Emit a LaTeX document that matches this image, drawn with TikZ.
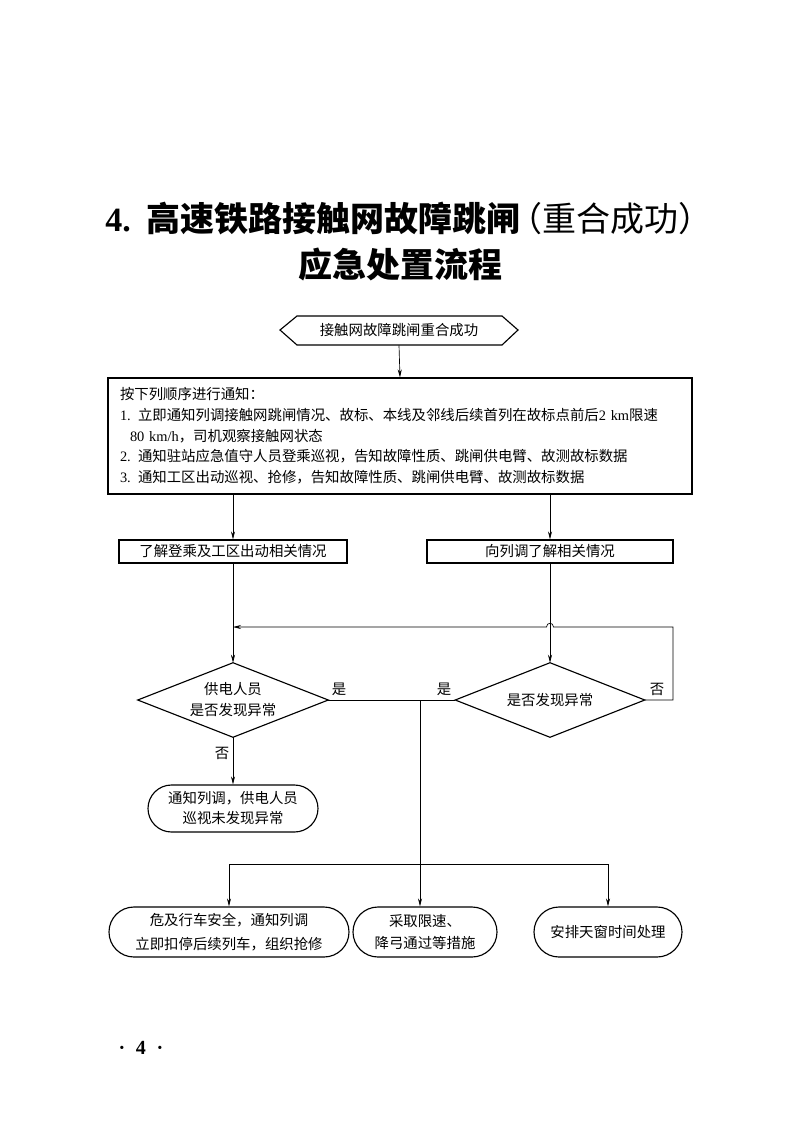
\documentclass[tikz,border=0pt]{standalone}
\usepackage{fontspec}
\setmainfont{Liberation Serif}
\newfontfamily\cjk{Noto Sans CJK SC}
\usetikzlibrary{arrows.meta,shapes.geometric,shapes.misc}
\newcommand\lat[1]{{\rmfamily #1}}
\begin{document}
\begin{tikzpicture}[x=0.75pt,y=-0.75pt,
  font=\cjk\fontsize{10.8pt}{15.5pt}\selectfont,
  box/.style={draw, line width=0.85pt, inner sep=0pt, align=center},
  rbox/.style={rounded rectangle, draw, line width=0.85pt, inner sep=0pt, align=center},
  dia/.style={inner sep=0pt, align=center},
  diaedge/.style={line width=0.85pt},
  conn/.style={line width=0.5pt},
  arr/.style={conn, -{Stealth[length=6pt,width=3pt]}},
  lbl/.style={inner sep=0pt}]
\useasboundingbox (0,0) rectangle (800,1135);

% title
\node[lbl, anchor=base west, font=\cjk\fontsize{25.5pt}{30pt}\selectfont] (title1) at (105,231)
  {{\rmfamily\bfseries 4.}\hspace{0.45em}{\bfseries 高速铁路接触网故障跳闸}\kern-0.35em（重合成功）};
\node[lbl, font=\cjk\bfseries\fontsize{25.5pt}{30pt}\selectfont] (title2) at (400,265) {应急处置流程};

% start
\draw[line width=0.85pt] (280,330) -- (297,316) -- (502,316) -- (518,330) -- (502,345) -- (297,345) -- cycle;
\node[lbl, minimum width=238*0.75pt, minimum height=29*0.75pt] (start) at (399,330.5) {接触网故障跳闸重合成功};

% notify box
\node[box, minimum width=584*0.75pt, minimum height=116*0.75pt, text width=560*0.75pt, align=left] (notify) at (400,436)
  {按下列顺序进行通知：\\
   \lat{1. }立即通知列调接触网跳闸情况、故标、本线及邻线后续首列在故标点前后\lat{2 km}限速\\
   \hspace*{7.5pt}\lat{80 km/h}，司机观察接触网状态\\
   \lat{2. }通知驻站应急值守人员登乘巡视，告知故障性质、跳闸供电臂、故测故标数据\\
   \lat{3. }通知工区出动巡视、抢修，告知故障性质、跳闸供电臂、故测故标数据};

\node[box, minimum width=228*0.75pt, minimum height=23*0.75pt] (boxL) at (233,551.5) {了解登乘及工区出动相关情况};
\node[box, minimum width=246*0.75pt, minimum height=23*0.75pt] (boxR) at (550,551.5) {向列调了解相关情况};

\node[dia, minimum width=190*0.75pt, minimum height=74*0.75pt, font=\cjk\fontsize{10.8pt}{15.75pt}\selectfont] (dL) at (233,700) {供电人员\\是否发现异常};
\node[dia, minimum width=189*0.75pt, minimum height=74*0.75pt] (dR) at (550,700) {是否发现异常};
\draw[diaedge] (dL.west) -- (dL.north) -- (dL.east) -- (dL.south) -- cycle;
\draw[diaedge] (dR.west) -- (dR.north) -- (dR.east) -- (dR.south) -- cycle;

\node[rbox, minimum width=170*0.75pt, minimum height=47*0.75pt, font=\cjk\fontsize{10.8pt}{15pt}\selectfont] (r1) at (233,808.5) {通知列调，供电人员\\巡视未发现异常};

\node[rbox, minimum width=240*0.75pt, minimum height=50*0.75pt, font=\cjk\fontsize{10.8pt}{18pt}\selectfont] (b1) at (229,932) {危及行车安全，通知列调\\立即扣停后续列车，组织抢修};
\node[rbox, minimum width=144*0.75pt, minimum height=50*0.75pt, font=\cjk\fontsize{10.8pt}{16.5pt}\selectfont] (b2) at (425,932) {采取限速、\\降弓通过等措施};
\node[rbox, minimum width=148*0.75pt, minimum height=50*0.75pt] (b3) at (608,932) {安排天窗时间处理};

% labels
\node[lbl] (y1) at (339,689) {是};
\node[lbl] (y2) at (444,689) {是};
\node[lbl] (n1) at (657,689) {否};
\node[lbl] (n2) at (222,753) {否};

% page number
\node[lbl, font=\rmfamily\bfseries\fontsize{15pt}{18pt}\selectfont] (page) at (141,1048) {·\hspace{8pt}4\hspace{8pt}·};

% coordinates
\coordinate (jL) at (233,627);
\coordinate (jM) at (420,700);
\coordinate (jH) at (420,864);

% connectors
\draw[arr] (start.south) -- (notify.north);
\draw[arr] (notify.south -| boxL.north) -- (boxL.north);
\draw[arr] (notify.south -| boxR.north) -- (boxR.north);
\draw[arr] (boxL.south) -- (dL.north);
\draw[arr] (boxR.south) -- (dR.north);
\draw[arr] (dR.east) -- (673,700) -- (673,627) -- (553.5,627)
  .. controls (553.5,622) and (546.5,622) .. (546.5,627) -- (jL);
\draw[arr] (dL.south) -- (r1.north);
\draw[conn] (dL.east) -- (dR.west);
\draw[arr] (jM) -- (jM |- b2.north);
\draw[conn] (b1.north |- jH) -- (b3.north |- jH);
\draw[arr] (b1.north |- jH) -- (b1.north);
\draw[arr] (b3.north |- jH) -- (b3.north);
\end{tikzpicture}
\end{document}
